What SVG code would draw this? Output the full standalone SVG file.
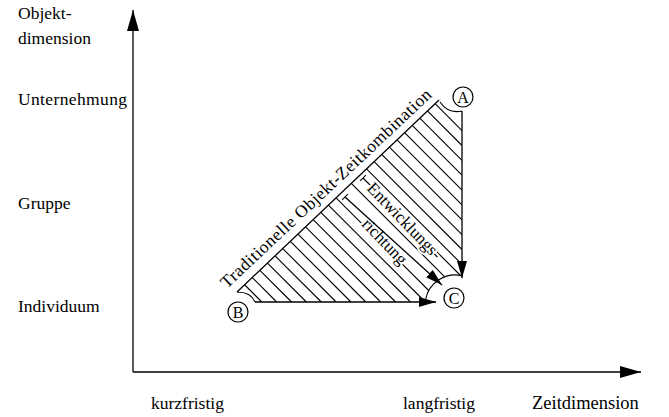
<svg xmlns="http://www.w3.org/2000/svg" width="669" height="417" viewBox="0 0 669 417">
<style>
text{font-family:"Liberation Serif","Times New Roman",serif;font-size:17.5px;fill:#000}
.ln{stroke:#000;stroke-width:1.3;fill:none}
.h{stroke:#000;stroke-width:1.1;fill:none}
.halo{stroke:#fff;stroke-width:4;paint-order:stroke;stroke-linejoin:round}
.node circle{fill:#fff;stroke:#000;stroke-width:1.2}
.node text{font-size:16px;text-anchor:middle}
</style>
<defs>
<marker id="big" markerUnits="userSpaceOnUse" markerWidth="22" markerHeight="12" refX="21" refY="6" orient="auto"><path d="M0,0 L21,6 L0,12 z" fill="#000"/></marker>
<marker id="sm" markerUnits="userSpaceOnUse" markerWidth="18" markerHeight="10" refX="17" refY="5" orient="auto"><path d="M0,0 L17,5 L0,10 z" fill="#000"/></marker>
<mask id="hm" maskUnits="userSpaceOnUse" x="0" y="0" width="669" height="417">
<polygon points="226,302 236,290 438,98 462,98 462,302" fill="#fff"/>
<path d="M425.5,299.8 A30,30 0 0 1 462.8,276 L470,276 L470,310 L420,310 Z" fill="#000"/>
</mask>
</defs>
<rect width="669" height="417" fill="#fff"/>

<g id="hatching" class="h" mask="url(#hm)">
<line x1="244.64" y1="284.74" x2="261.9" y2="302"/>
<line x1="252.23" y1="277.53" x2="276.7" y2="302"/>
<line x1="259.87" y1="270.27" x2="291.6" y2="302"/>
<line x1="267.45" y1="263.05" x2="306.4" y2="302"/>
<line x1="275.09" y1="255.79" x2="321.3" y2="302"/>
<line x1="282.73" y1="248.53" x2="336.2" y2="302"/>
<line x1="290.32" y1="241.32" x2="351" y2="302"/>
<line x1="297.96" y1="234.06" x2="365.9" y2="302"/>
<line x1="305.55" y1="226.85" x2="380.7" y2="302"/>
<line x1="313.19" y1="219.59" x2="395.6" y2="302"/>
<line x1="320.83" y1="212.33" x2="410.5" y2="302"/>
<line x1="328.41" y1="205.11" x2="425.3" y2="302"/>
<line x1="336.05" y1="197.85" x2="440.2" y2="302"/>
<line x1="351.28" y1="183.38" x2="462" y2="294.1"/>
<line x1="363" y1="178" x2="462" y2="277"/>
<line x1="366.51" y1="168.91" x2="462" y2="264.4"/>
<line x1="374.15" y1="161.65" x2="462" y2="249.5"/>
<line x1="381.73" y1="154.43" x2="462" y2="234.7"/>
<line x1="389.37" y1="147.17" x2="462" y2="219.8"/>
<line x1="397.01" y1="139.91" x2="462" y2="204.9"/>
<line x1="404.6" y1="132.7" x2="462" y2="190.1"/>
<line x1="412.24" y1="125.44" x2="462" y2="175.2"/>
<line x1="419.83" y1="118.23" x2="462" y2="160.4"/>
<line x1="427.46" y1="110.96" x2="462" y2="145.5"/>
<line x1="435.1" y1="103.7" x2="462" y2="130.6"/>
</g>

<g id="inner-labels">
<text class="halo" transform="translate(366,189) rotate(46)" style="font-size:17px">Entwicklungs-</text>
<text class="halo" transform="translate(361,225) rotate(46)" style="font-size:17px">richtung</text>
</g>

<g id="connectors">
<line class="ln" x1="133" y1="372" x2="133" y2="10" marker-end="url(#big)"/>
<line class="ln" x1="133" y1="372" x2="641" y2="372" marker-end="url(#big)"/>
<line class="ln" x1="237" y1="292" x2="439" y2="100"/>
<line class="ln" x1="255" y1="302" x2="436" y2="302" marker-end="url(#sm)"/>
<line class="ln" x1="462" y1="111" x2="462" y2="278" marker-end="url(#sm)"/>
<line class="ln" x1="345" y1="197" x2="442" y2="285" marker-end="url(#sm)"/>
<path class="h" d="M342.1,199.8 L347.9,194.2 M360.1,180.8 L365.9,175.2"/>
<path class="h" d="M237,292 Q251,292 255,302"/>
<path class="h" d="M440,102 Q448,114 462,111"/>
<path class="h" d="M425.5,299.8 A30,30 0 0 1 462.8,276"/>
</g>

<g id="node-A" class="node"><circle cx="463" cy="97" r="10"/><text x="463" y="102.5">A</text></g>
<g id="node-B" class="node"><circle cx="238" cy="312" r="10"/><text x="238" y="317.5">B</text></g>
<g id="node-C" class="node"><circle cx="454" cy="298" r="10"/><text x="454" y="303.5">C</text></g>

<g id="labels">
<text transform="translate(227,289) rotate(-43.2)" textLength="282" lengthAdjust="spacing">Traditionelle Objekt-Zeitkombination</text>
<text x="18" y="19">Objekt-</text>
<text x="18" y="44">dimension</text>
<text x="18" y="105" textLength="109" lengthAdjust="spacing">Unternehmung</text>
<text x="18" y="209">Gruppe</text>
<text x="18" y="312">Individuum</text>
<text x="151" y="409">kurzfristig</text>
<text x="403" y="409">langfristig</text>
<text x="532" y="409" style="font-size:18.5px">Zeitdimension</text>
</g>
</svg>
